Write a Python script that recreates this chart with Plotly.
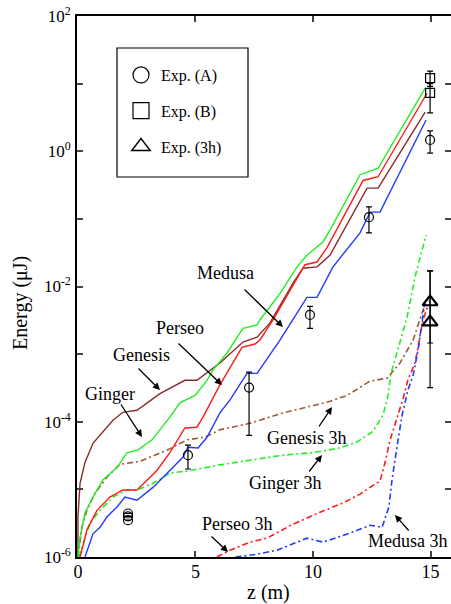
import plotly.graph_objects as go

# ---------------- data ----------------
genesis_z = [0.0, 0.0, 0.09, 0.30, 0.64, 1.06, 1.49, 1.91, 2.51, 3.49, 4.55, 5.06, 6.04, 7.02, 7.62, 8.17, 9.15, 9.57, 10.17, 10.72, 12.3, 12.77, 14.77]
genesis_e = [1.0e-6, 3.9e-6, 1.23e-5, 2.5e-5, 4.8e-5, 7.1e-5, 1.05e-4, 1.38e-4, 1.48e-4, 2.6e-4, 4.1e-4, 4.1e-4, 7.4e-4, 1.51e-3, 1.78e-3, 2.9e-3, 1.12e-2, 1.86e-2, 1.95e-2, 2.9e-2, 0.285, 0.285, 3.8]

ginger_z = [0.0, 0.09, 0.30, 0.64, 1.06, 1.66, 2.09, 2.55, 3.15, 3.91, 4.34, 4.98, 5.49, 5.74, 6.34, 7.02, 7.62, 7.74, 8.6, 9.32, 9.74, 10.17, 10.43, 10.72, 12.0, 12.77, 14.77]
ginger_e = [1.0e-6, 1.95e-6, 4.5e-6, 7.7e-6, 1.38e-5, 2.1e-5, 3.5e-5, 3.8e-5, 5.4e-5, 1.17e-4, 1.9e-4, 2.45e-4, 4.1e-4, 5.8e-4, 1.04e-3, 2.4e-3, 2.7e-3, 3.2e-3, 7.9e-3, 1.95e-2, 2.9e-2, 3.8e-2, 4.6e-2, 6.8e-2, 0.45, 0.56, 8.6]

perseo_z = [0.09, 0.38, 0.81, 1.36, 1.91, 2.51, 3.36, 3.91, 4.55, 5.06, 5.32, 6.04, 6.98, 7.53, 7.74, 8.30, 9.45, 9.66, 10.17, 10.6, 12.13, 12.77, 14.85]
perseo_e = [1.0e-6, 2.5e-6, 4.9e-6, 7.7e-6, 9.8e-6, 9.8e-6, 1.9e-5, 3.5e-5, 8.1e-5, 8.3e-5, 1.17e-4, 3.5e-4, 1.26e-3, 1.41e-3, 1.62e-3, 3.2e-3, 1.58e-2, 2.1e-2, 2.3e-2, 3.8e-2, 0.37, 0.42, 7.2]

medusa_z = [0.30, 0.64, 0.94, 1.23, 1.66, 2.0, 2.51, 3.19, 3.91, 4.47, 4.68, 5.11, 5.49, 6.04, 6.47, 7.19, 7.62, 8.6, 9.74, 10.17, 10.85, 12.0, 12.43, 12.85, 14.81]
medusa_e = [1.0e-6, 2.2e-6, 2.75e-6, 3.9e-6, 5.5e-6, 7.7e-6, 6.9e-6, 1.07e-5, 1.9e-5, 3.0e-5, 4.2e-5, 4.1e-5, 5.9e-5, 1.35e-4, 2.1e-4, 5.2e-4, 5.2e-4, 1.62e-3, 6.9e-3, 6.9e-3, 1.95e-2, 6.2e-2, 0.126, 0.126, 2.9]

genesis3h_z = [0.0, 0.17, 0.38, 0.72, 1.23, 1.79, 2.64, 3.79, 4.64, 5.40, 6.04, 7.32, 8.72, 9.87, 10.6, 11.45, 12.43, 13.15, 13.7, 14.26, 14.68, 14.89]
genesis3h_e = [1.0e-6, 2.75e-6, 4.9e-6, 8.7e-6, 1.51e-5, 2.35e-5, 2.6e-5, 3.8e-5, 5.4e-5, 5.9e-5, 7.6e-5, 9.5e-5, 1.35e-4, 1.7e-4, 1.95e-4, 2.45e-4, 4.0e-4, 4.4e-4, 7.4e-4, 1.62e-3, 4.5e-3, 6.3e-3]

ginger3h_z = [0.05, 0.51, 0.94, 1.49, 2.09, 2.51, 3.19, 3.91, 4.77, 6.04, 7.32, 8.72, 10.0, 11.15, 11.87, 12.55, 12.98, 13.19, 13.32, 13.57, 14.0, 14.34, 14.64, 14.81]
ginger3h_e = [1.0e-6, 3.2e-6, 4.9e-6, 7.7e-6, 9.8e-6, 9.8e-6, 1.23e-5, 1.74e-5, 1.9e-5, 2.3e-5, 2.7e-5, 3.2e-5, 3.5e-5, 4.1e-5, 5.0e-5, 7.2e-5, 1.26e-4, 2.45e-4, 5.2e-4, 1.04e-3, 3.5e-3, 1.38e-2, 3.5e-2, 5.8e-2]

perseo3h_z = [5.91, 6.47, 7.32, 8.04, 9.02, 10.3, 11.28, 12.0, 12.64, 12.85, 13.06, 13.28, 13.57, 13.83, 14.04, 14.34, 14.68, 14.89]
perseo3h_e = [1.0e-6, 1.26e-6, 1.66e-6, 1.9e-6, 2.9e-6, 4.6e-6, 6.3e-6, 8.5e-6, 1.2e-5, 1.32e-5, 2.45e-5, 5.4e-5, 1.12e-4, 2.2e-4, 4.2e-4, 7.4e-4, 3.2e-3, 5.2e-3]

medusa3h_z = [6.7, 7.62, 8.47, 9.74, 10.43, 11.57, 12.43, 12.94, 13.23, 13.36, 13.57, 13.79, 14.04, 14.26, 14.47, 14.77]
medusa3h_e = [1.0e-6, 1.1e-6, 1.26e-6, 1.9e-6, 1.66e-6, 2.25e-6, 2.95e-6, 2.75e-6, 5.5e-6, 1.38e-5, 4.2e-5, 1.26e-4, 2.95e-4, 4.9e-4, 1.15e-3, 6.3e-3]

expA_z = [2.13, 2.13, 2.13, 4.68, 7.28, 9.87, 12.38, 14.98]
expA_e = [4.4e-6, 4.0e-6, 3.5e-6, 3.2e-5, 3.2e-4, 3.8e-3, 0.106, 1.47]
expA_up = [0, 0, 0, 4.5e-5, 5.4e-4, 5.1e-3, 0.15, 2.0]
expA_lo = [0, 0, 0, 2.0e-5, 6.3e-5, 2.4e-3, 0.062, 0.94]

expB_z = [14.98, 14.98]
expB_e = [12.1, 7.3]
expB_up = [15.3, 10.0]
expB_lo = [9.1, 3.7]

exp3h_z = [14.98, 14.98]
exp3h_e = [5.9e-3, 2.97e-3]
exp3h_up = [1.7e-2, 1.7e-2]
exp3h_lo = [1.46e-3, 3.2e-4]

y_tickvals = [1e-6, 1e-5, 1e-4, 1e-3, 1e-2, 1e-1, 1e0, 1e1, 1e2]
y_ticktext = ["10<sup>-6</sup>", "", "10<sup>-4</sup>", "", "10<sup>-2</sup>", "", "10<sup>0</sup>", "", "10<sup>2</sup>"]
x_tickvals = [0, 5, 10, 15]

# ---------------- figure ----------------
FONT = "Liberation Serif, Times New Roman, serif"
W, H = 451, 604
L, R, T, B = 77, 0, 16, 47
PW, PH = W - L - R, H - T - B


def pxx(x):
    return (x - L) / PW


def pxy(y):
    return (H - B - y) / PH


C_GEN = "#8b2a2a"
C_GEN3 = "#9c5b33"
C_GIN = "#22ee22"
C_PER = "#ff1a1a"
C_MED = "#1f3bff"
DASHDOT = "6px,3px,2px,3px"

fig = go.Figure()


def line(z, e, color, dash=None, width=1.4):
    fig.add_trace(go.Scatter(x=z, y=e, mode="lines", showlegend=False,
                             line=dict(color=color, width=width, dash=dash),
                             hoverinfo="skip"))


line(genesis3h_z, genesis3h_e, C_GEN3, DASHDOT, 1.6)
line(ginger3h_z, ginger3h_e, C_GIN, DASHDOT, 1.6)
line(perseo3h_z, perseo3h_e, C_PER, DASHDOT, 1.6)
line(medusa3h_z, medusa3h_e, C_MED, DASHDOT, 1.6)
line(genesis_z, genesis_e, C_GEN)
line(ginger_z, ginger_e, C_GIN)
line(perseo_z, perseo_e, C_PER)
line(medusa_z, medusa_e, C_MED)


def exp(z, e, up, lo, symbol, size, lw):
    fig.add_trace(go.Scatter(
        x=z, y=e, mode="markers", showlegend=False,
        marker=dict(symbol=symbol, size=size, color="black", line=dict(color="black", width=lw)),
        error_y=dict(type="data", symmetric=False,
                     array=[u - v if u else 0 for u, v in zip(up, e)],
                     arrayminus=[v - l if l else 0 for l, v in zip(lo, e)],
                     color="black", thickness=1.2, width=3)))


exp(expA_z, expA_e, expA_up, expA_lo, "circle-open", 9, 1.2)
exp(expB_z, expB_e, expB_up, expB_lo, "square-open", 9, 1.2)
exp(exp3h_z, exp3h_e, exp3h_up, exp3h_lo, "triangle-up-open", 13, 2.2)

# legend proxies
for name, sym, lw in [("Exp. (A)", "circle-open", 1.2), ("Exp. (B)", "square-open", 1.2), ("Exp. (3h)", "triangle-up-open", 1.4)]:
    fig.add_trace(go.Scatter(x=[None], y=[None], mode="markers", name=name, legendgroup=name,
                             marker=dict(symbol=sym, size=16, color="black", line=dict(color="black", width=lw))))

# right-side ticks without a line
fig.add_trace(go.Scatter(x=[None], y=[None], yaxis="y2", showlegend=False, hoverinfo="skip"))

fig.update_layout(
    width=W, height=H,
    margin=dict(l=L, r=R, t=T, b=B),
    paper_bgcolor="white", plot_bgcolor="white",
    font=dict(family=FONT, color="black", size=17),
    xaxis=dict(range=[-0.04, 15.87], tickvals=x_tickvals, ticks="inside", ticklen=6, tickwidth=1.5,
               showline=True, linecolor="black", linewidth=1.6, mirror="ticks", showgrid=False,
               zeroline=False, tickfont=dict(size=18, family=FONT),
               ticklabelposition="outside", ticklabelstandoff=-2),
    yaxis=dict(type="log", range=[-6, 2], tickvals=y_tickvals, ticktext=y_ticktext, ticks="inside",
               ticklen=6, tickwidth=1.5, showline=True, linecolor="black", linewidth=1.6,
               showgrid=False, zeroline=False, tickfont=dict(size=17, family=FONT),
               ticklabelposition="outside", ticklabelstandoff=1),
    yaxis2=dict(type="log", range=[-6, 2], overlaying="y", side="right", anchor="x",
                tickvals=y_tickvals, ticks="inside", ticklen=6, tickwidth=1.5,
                showticklabels=False, showline=False, showgrid=False, zeroline=False),
    showlegend=True,
    legend=dict(x=pxx(121), y=pxy(58), xanchor="left", yanchor="top",
                bgcolor="rgba(0,0,0,0)", borderwidth=0, traceorder="grouped",
                tracegroupgap=12, font=dict(size=16, family=FONT)),
    shapes=[dict(type="rect", xref="paper", yref="paper", x0=pxx(117), x1=pxx(248),
                 y0=pxy(177), y1=pxy(48), line=dict(color="black", width=1.2))],
)

anns = []
# axis titles
anns.append(dict(text="z (m)", x=pxx(268), y=pxy(592), xref="paper", yref="paper",
                 xanchor="center", yanchor="middle", showarrow=False, font=dict(size=20)))
anns.append(dict(text="Energy (μJ)", x=pxx(20), y=pxy(303), xref="paper", yref="paper",
                 xanchor="center", yanchor="middle", showarrow=False, textangle=-90,
                 font=dict(size=20)))

labels = [("Ginger", 110, 394), ("Genesis", 141, 355), ("Perseo", 180, 328), ("Medusa", 225, 273),
          ("Genesis 3h", 307, 438), ("Ginger 3h", 285, 483), ("Perseo 3h", 237, 524), ("Medusa 3h", 408, 541)]
for t, x, y in labels:
    anns.append(dict(text=t, x=pxx(x), y=pxy(y), xref="paper", yref="paper", showarrow=False,
                     xanchor="center", yanchor="middle", font=dict(size=18)))

arrows = [((120, 403), (142, 437)), ((137, 367), (160, 390)), ((177, 342), (222, 385)),
          ((243, 288), (283, 327)), ((318, 428), (332, 407)), ((308, 473), (322, 455)),
          ((210, 535), (228, 552)), ((410, 532), (395, 515))]
for (tx, ty), (hx, hy) in arrows:
    anns.append(dict(text="", x=pxx(hx), y=pxy(hy), xref="paper", yref="paper", showarrow=True,
                     ax=tx - hx, ay=ty - hy, arrowhead=2, arrowsize=1.1, arrowwidth=1.3,
                     arrowcolor="black", standoff=0, startstandoff=0))
fig.update_layout(annotations=anns)

fig.write_html("out.html", config={"displayModeBar": False},
               post_script="document.body.style.margin='0';document.body.style.padding='0';")
